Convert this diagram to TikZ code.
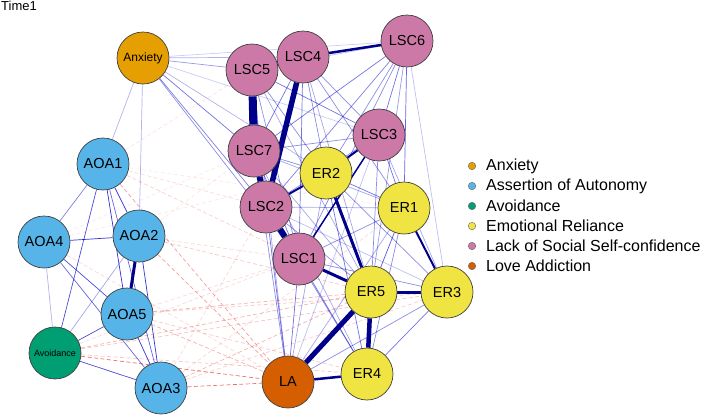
\documentclass[tikz,border=0pt]{standalone}
\usepackage{fontspec}
\setmainfont{Liberation Sans}
\pgfdeclarelayer{bg}
\pgfsetlayers{bg,main}
\definecolor{cAnx}{HTML}{E69F00}
\definecolor{cAOA}{HTML}{56B4E9}
\definecolor{cAvo}{HTML}{009E73}
\definecolor{cER}{HTML}{F0E442}
\definecolor{cLSC}{HTML}{CC79A7}
\definecolor{cLA}{HTML}{D55E00}
\definecolor{pos}{HTML}{0000C8}
\definecolor{posdark}{HTML}{00008B}
\definecolor{negc}{HTML}{E8403A}
\tikzset{
  vert/.style={circle, draw=black!75, line width=0.7pt, minimum size=52pt, inner sep=0pt, font=\fontsize{14.5}{14.5}\selectfont},
  pe/.style={draw=pos, line width=0.7pt, draw opacity=#1},
  se/.style={draw=posdark, line width=#1pt},
  ne/.style={draw=negc, line width=0.7pt, dash pattern=on 4pt off 2.5pt, draw opacity=#1},
  legdot/.style={circle, draw=black!60, line width=0.4pt, minimum size=7.5pt, inner sep=0pt},
  legtxt/.style={anchor=west, font=\fontsize{16}{16}\selectfont, inner sep=0pt}
}
\begin{document}
\begin{tikzpicture}[x=1pt,y=-1pt]
\useasboundingbox (0,0) rectangle (709,416);
\node[anchor=north west, inner sep=0pt, font=\fontsize{13}{13}\selectfont] (title) at (1,1) {Time1};
% nodes
\node[vert, fill=cAnx, font=\fontsize{12}{12}\selectfont] (Anx) at (143,58) {Anxiety};
\node[vert, fill=cLSC] (L5) at (252,70) {LSC5};
\node[vert, fill=cLSC] (L4) at (303,57) {LSC4};
\node[vert, fill=cLSC] (L6) at (407,41) {LSC6};
\node[vert, fill=cLSC] (L7) at (254,151) {LSC7};
\node[vert, fill=cLSC] (L3) at (379,135) {LSC3};
\node[vert, fill=cER] (E2) at (326,173) {ER2};
\node[vert, fill=cLSC] (L2) at (266,207) {LSC2};
\node[vert, fill=cER] (E1) at (404,208) {ER1};
\node[vert, fill=cLSC] (L1) at (299,259) {LSC1};
\node[vert, fill=cER] (E5) at (371,292) {ER5};
\node[vert, fill=cER] (E3) at (447,292) {ER3};
\node[vert, fill=cER] (E4) at (367,374) {ER4};
\node[vert, fill=cLA] (LA) at (288,382) {LA};
\node[vert, fill=cAOA] (A1) at (103,164) {AOA1};
\node[vert, fill=cAOA] (A4) at (44,242) {AOA4};
\node[vert, fill=cAOA] (A2) at (139,236) {AOA2};
\node[vert, fill=cAOA] (A5) at (127,314) {AOA5};
\node[vert, fill=cAvo, font=\fontsize{9}{9}\selectfont] (Av) at (55,353) {Avoidance};
\node[vert, fill=cAOA] (A3) at (161,388) {AOA3};
% legend
\foreach \c/\t/\y [count=\i] in {cAnx/Anxiety/166, cAOA/Assertion of Autonomy/186, cAvo/Avoidance/206, cER/Emotional Reliance/226, cLSC/Lack of Social Self-confidence/246, cLA/Love Addiction/266}{
  \node[legdot, fill=\c] (ld\i) at (472,\y) {};
  \node[legtxt] (lt\i) at (486,\y) {\t};
}
\begin{pgfonlayer}{bg}
% negative edges
\foreach \a/\b/\o in {A1/LA/0.5, A1/E5/0.25, A1/L5/0.15, A1/L2/0.2, A1/E1/0.12, A2/LA/0.5, A2/E5/0.3, A2/L1/0.2, A2/L7/0.12, A5/E5/0.4, A5/E3/0.3, A5/LA/0.4, A5/E4/0.3, A5/L1/0.2, Av/LA/0.75, Av/E5/0.4, Av/E4/0.3, Av/E3/0.3, Av/L1/0.2, A3/LA/0.75, A3/E5/0.4, A3/E1/0.2, A3/L2/0.2, A3/E3/0.25, A4/LA/0.2, A4/L7/0.12, A4/E2/0.12}
  \draw[ne=\o] (\a) -- (\b);
% weak positive edges
\foreach \a/\b/\o in {A1/A2/0.75, A1/A5/0.8, A1/A3/0.6, A1/Av/0.7, A1/A4/0.5, A4/A2/0.8, A4/A5/0.7, A4/A3/0.6, A4/Av/0.3, A2/A3/0.8, A5/A3/0.8, A5/Av/0.7, Av/A3/0.7, A2/Av/0.35,
  Anx/L5/0.4, Anx/L4/0.3, Anx/L6/0.2, Anx/L7/0.55, Anx/L2/0.5, Anx/L1/0.45, Anx/E2/0.3, Anx/A1/0.3, Anx/A2/0.3, Anx/L3/0.2,
  L6/L5/0.25, L6/L7/0.55, L6/L2/0.5, L6/L1/0.45, L6/L3/0.55, L6/E2/0.45, L6/E1/0.6, L6/E3/0.25, L6/E5/0.4,
  L5/L4/0.75, L5/L2/0.55, L5/L1/0.45, L5/L3/0.55, L5/E2/0.45, L5/E5/0.35, L5/LA/0.35,
  L4/L7/0.55, L4/L3/0.45, L4/E2/0.45, L4/E1/0.45, L4/L1/0.55, L4/E5/0.35,
  L7/L3/0.45, L7/E2/0.45, L7/L1/0.55, L7/E1/0.35, L7/E5/0.35, L7/LA/0.45, L7/E4/0.35,
  L3/L2/0.45, L3/E1/0.55, L3/E5/0.45, L3/E3/0.35, L3/LA/0.25,
  E2/E1/0.55, E2/E3/0.45, E2/LA/0.35, E2/E4/0.55,
  L2/E1/0.35, L2/E5/0.45, L2/LA/0.55, L2/E4/0.45, L2/E3/0.25,
  E1/E5/0.65, E1/E4/0.45, E1/L1/0.45, E1/LA/0.35,
  L1/LA/0.55, L1/E4/0.55, L1/E3/0.45, E3/E4/0.55, E3/LA/0.45}
  \draw[pe=\o] (\a) -- (\b);
% strong positive edges
\foreach \a/\b/\w in {L5/L7/8, L4/L2/5.5, L7/L2/6, L2/L1/6, LA/E5/5, E5/E4/4.5, E2/E5/3, L4/L6/2.5, A2/A5/3, L1/E5/3, E5/E3/3, LA/E4/2.5, E1/E3/2, L3/E2/2, L2/E2/2, L1/L3/1.5}
  \draw[se=\w] (\a) -- (\b);
\end{pgfonlayer}
\end{tikzpicture}
\end{document}
